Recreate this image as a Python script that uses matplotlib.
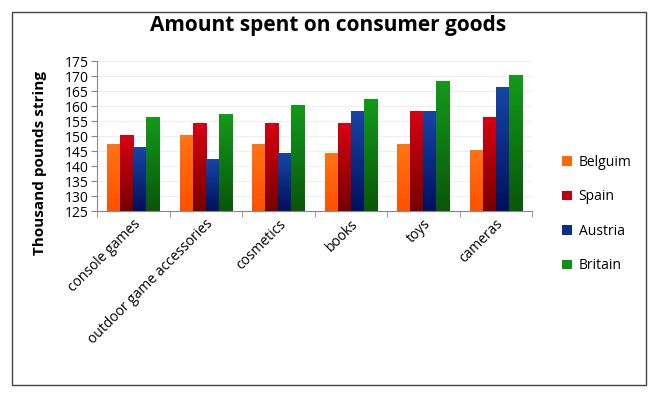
import numpy as np
import matplotlib.pyplot as plt
from matplotlib.patches import Rectangle
from matplotlib.colors import LinearSegmentedColormap

plt.rcParams['font.family'] = ['Open Sans', 'DejaVu Sans']

# %% data
categories = ['console games', 'outdoor game accessories', 'cosmetics',
              'books', 'toys', 'cameras']
countries = ['Belguim', 'Spain', 'Austria', 'Britain']
belgium = [147, 150, 147, 144, 147, 145]
spain = [150, 154, 154, 154, 158, 156]
austria = [146, 142, 144, 158, 158, 166]
britain = [156, 157, 160, 162, 168, 170]
y_ticks = list(range(125, 176, 5))

series = [belgium, spain, austria, britain]
colors = ['#ff6a00', '#c00010', '#0a2e8a', '#109010']
# (top, bottom) colours of the bar gradient
grad = [('#ff7414', '#ff5000'), ('#d80012', '#760000'),
        ('#1546a6', '#00105e'), ('#139a1a', '#0a560a')]

# %% figure
fig = plt.figure(figsize=(6.56, 3.97), dpi=100)
fig.patches.append(Rectangle((0.018, 0.03), 0.966, 0.94, transform=fig.transFigure,
                             fill=False, edgecolor='#444444', linewidth=1))
ax = fig.add_axes([0.148, 0.468, 0.663, 0.378])

x = np.arange(len(categories))
width = 0.18
ramp = np.linspace(0, 1, 64).reshape(-1, 1)
for i, (vals, c, name) in enumerate(zip(series, colors, countries)):
    bars = ax.bar(x + (i - 1.5) * width, np.array(vals) - 125, width, bottom=125,
                  color=c, label=name, zorder=3)
    cmap = LinearSegmentedColormap.from_list('g%d' % i, [grad[i][1], grad[i][0]])
    for b in bars:
        x0, y0 = b.get_x(), b.get_y()
        ax.imshow(ramp, extent=[x0, x0 + b.get_width(), y0, y0 + b.get_height()],
                  origin='lower', aspect='auto', cmap=cmap, zorder=4,
                  interpolation='bilinear')

ax.set_xlim(-0.5, len(categories) - 0.5)
ax.set_ylim(125, 175)
ax.set_aspect('auto')
ax.set_yticks(y_ticks)
ax.set_yticklabels([str(t) for t in y_ticks], fontsize=10)
ax.yaxis.grid(True, color='#eeeeee', linewidth=0.8, zorder=0)

ax.set_xticks(x)
ax.set_xticklabels(categories, rotation=45, ha='right', rotation_mode='anchor',
                   fontsize=10)
ax.tick_params(axis='x', length=0, pad=4)
ax.set_xticks(np.arange(-0.5, len(categories)), minor=True)
ax.tick_params(axis='x', which='minor', length=4, color='#888888')
ax.tick_params(axis='y', length=4, color='#888888', pad=2)

for s in ['top', 'right']:
    ax.spines[s].set_visible(False)
for s in ['left', 'bottom']:
    ax.spines[s].set_color('#888888')
    ax.spines[s].set_zorder(5)

ax.set_ylabel('Thousand pounds string', fontsize=11, fontweight='bold')
ax.yaxis.set_label_coords(-0.115, 0.32)
fig.text(0.5, 0.935, 'Amount spent on consumer goods', ha='center', va='center',
         fontsize=15, fontweight='bold')

leg = ax.legend(loc='center left', bbox_to_anchor=(1.04, -0.02), frameon=False,
                fontsize=10, labelspacing=1.4, handlelength=0.7, handleheight=0.7,
                handletextpad=0.5)

fig.savefig('out.png', dpi=100)
